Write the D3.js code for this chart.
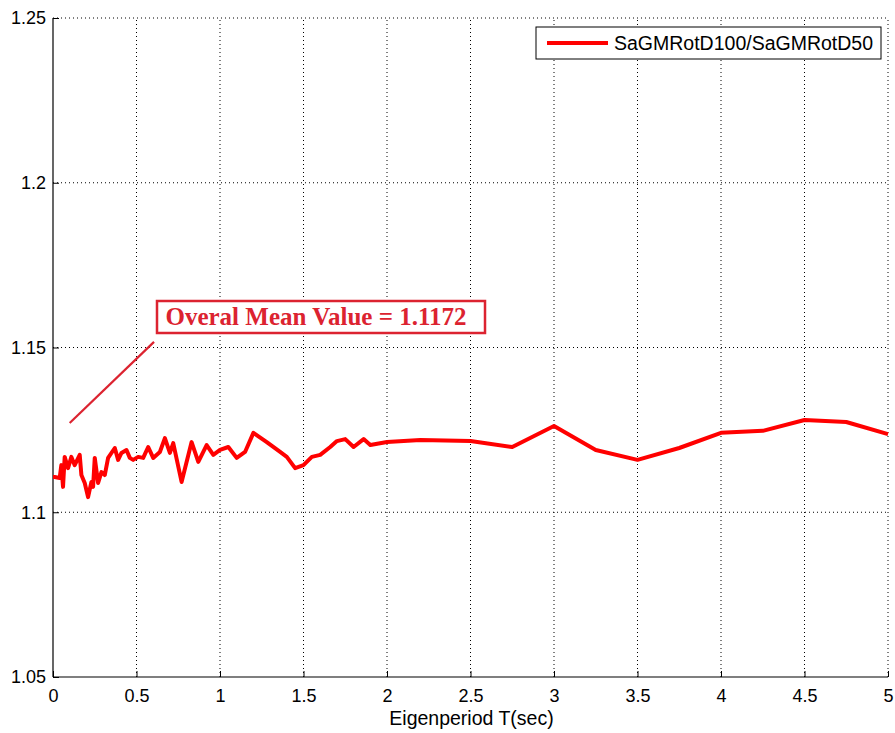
<!DOCTYPE html>
<html>
<head>
<meta charset="utf-8">
<script src="https://cdn.jsdelivr.net/npm/d3@7"></script>
<style>
  body { margin: 0; background: #fff; }
  svg { display: block; }
</style>
</head>
<body>
<script>
// periods (sec) and ratio values
const periods = [0.0, 0.01, 0.04, 0.05, 0.06, 0.07, 0.09, 0.11, 0.13, 0.16, 0.17, 0.19, 0.21, 0.23, 0.24, 0.25,
    0.27, 0.29, 0.31, 0.33, 0.37, 0.39, 0.41, 0.44, 0.46, 0.48, 0.51, 0.54, 0.57, 0.60, 0.64, 0.67, 0.70, 0.72,
    0.77, 0.83, 0.87, 0.92, 0.96, 1.00, 1.05, 1.10, 1.15, 1.20, 1.28, 1.36, 1.40, 1.45, 1.50, 1.55, 1.60, 1.66,
    1.70, 1.75, 1.80, 1.86, 1.90, 2.00, 2.20, 2.50, 2.75, 3.00, 3.25, 3.50, 3.75, 4.00, 4.25, 4.50, 4.75, 5.00];
const ratios = [1.1107, 1.1107, 1.1104, 1.1143, 1.1077, 1.1168, 1.1134, 1.1168, 1.1143, 1.1174, 1.1113, 1.1089, 1.1046, 1.1092, 1.1077, 1.1165,
    1.1089, 1.1122, 1.1113, 1.1165, 1.1195, 1.1159, 1.1180, 1.1189, 1.1165, 1.1159, 1.1168, 1.1165, 1.1198, 1.1165, 1.1183, 1.1225, 1.1180, 1.1210,
    1.1092, 1.1213, 1.1153, 1.1204, 1.1174, 1.1189, 1.1198, 1.1165, 1.1183, 1.1241, 1.1213, 1.1183, 1.1168, 1.1134, 1.1143, 1.1168, 1.1174, 1.1198,
    1.1216, 1.1222, 1.1198, 1.1222, 1.1204, 1.1213, 1.1219, 1.1216, 1.1198, 1.1262, 1.1189, 1.1159, 1.1195, 1.1241, 1.1247, 1.1280, 1.1274, 1.1237];

const x_ticks = [0, 0.5, 1, 1.5, 2, 2.5, 3, 3.5, 4, 4.5, 5];
const y_ticks = [1.05, 1.1, 1.15, 1.2, 1.25];
const series_name = 'SaGMRotD100/SaGMRotD50';
const note_text = 'Overal Mean Value = 1.1172';
// arrow from note box down towards the curve
const note_line = [{t: 0.10, v: 1.1271}, {t: 0.605, v: 1.1517}];

const width = 895, height = 733;
const margins = {top: 18, bottom: 56, left: 53, right: 7};

const svg = d3.select('body').append('svg')
    .attr('width', width)
    .attr('height', height)
    .style('font-family', 'Arial, "Liberation Sans", sans-serif');

const x_scale = d3.scaleLinear().domain([0, 5]).range([margins.left, width - margins.right]);
const y_scale = d3.scaleLinear().domain([1.05, 1.25]).range([height - margins.bottom, margins.top]);

// dotted grid
svg.append('g').selectAll('line')
    .data(x_ticks.slice(1))
    .enter().append('line')
    .attr('x1', d => x_scale(d)).attr('x2', d => x_scale(d))
    .attr('y1', y_scale(1.05)).attr('y2', y_scale(1.25))
    .attr('stroke', '#000').attr('stroke-width', 1).attr('stroke-dasharray', '1,3');

svg.append('g').selectAll('line')
    .data(y_ticks.slice(1))
    .enter().append('line')
    .attr('x1', x_scale(0)).attr('x2', x_scale(5))
    .attr('y1', d => y_scale(d)).attr('y2', d => y_scale(d))
    .attr('stroke', '#000').attr('stroke-width', 1).attr('stroke-dasharray', '1,3');

// axes (ticks inside, matlab style)
let x_axis = d3.axisBottom(x_scale).tickValues(x_ticks).tickSize(-6).tickPadding(12)
    .tickFormat(d3.format('~g'));
let y_axis = d3.axisLeft(y_scale).tickValues(y_ticks).tickSize(-6).tickPadding(7)
    .tickFormat(d => d3.format('~g')(d));

const gx = svg.append('g')
    .attr('transform', 'translate(0,' + y_scale(1.05) + ')')
    .call(x_axis);
const gy = svg.append('g')
    .attr('transform', 'translate(' + x_scale(0) + ',0)')
    .call(y_axis);

[gx, gy].forEach(g => {
    g.select('.domain').attr('stroke', '#000').attr('stroke-width', 1.2);
    g.selectAll('.tick line').attr('stroke', '#000');
    g.selectAll('.tick text').attr('font-size', '18px').attr('fill', '#000')
        .attr('font-family', 'Arial, "Liberation Sans", sans-serif');
});
gx.select('.domain').attr('d', 'M' + x_scale(0) + ',0H' + x_scale(5));
gy.select('.domain').attr('d', 'M0,' + y_scale(1.05) + 'V' + y_scale(1.25));

svg.append('text')
    .attr('x', (x_scale(0) + x_scale(5)) / 2 + 1)
    .attr('y', 725)
    .attr('text-anchor', 'middle')
    .attr('font-size', '19.5px')
    .text('Eigenperiod T(sec)');

// the curve
const curve_data = periods.map((t, i) => ({t: t, v: ratios[i]}));
const line = d3.line().x(d => x_scale(d.t)).y(d => y_scale(d.v));

svg.append('path')
    .datum(curve_data)
    .attr('d', line)
    .attr('fill', 'none')
    .attr('stroke', '#ff0000')
    .attr('stroke-width', 4)
    .attr('stroke-linejoin', 'round');

// annotation
svg.append('path')
    .datum(note_line)
    .attr('d', line)
    .attr('stroke', '#dc2330')
    .attr('stroke-width', 2.2)
    .attr('fill', 'none');

svg.append('rect')
    .attr('x', 157).attr('y', 301)
    .attr('width', 328).attr('height', 32)
    .attr('fill', '#fff')
    .attr('stroke', '#dc2330')
    .attr('stroke-width', 2.5);

svg.append('text')
    .attr('x', 316).attr('y', 325)
    .attr('text-anchor', 'middle')
    .attr('font-family', '"Liberation Serif", "Times New Roman", serif')
    .attr('font-weight', 'bold')
    .attr('font-size', '25px')
    .attr('fill', '#dc2330')
    .text(note_text);

// legend
const legend = svg.append('g');
legend.append('rect')
    .attr('x', 536).attr('y', 27)
    .attr('width', 345).attr('height', 32)
    .attr('fill', '#fff')
    .attr('stroke', '#000')
    .attr('stroke-width', 1);
legend.append('line')
    .attr('x1', 547).attr('x2', 608)
    .attr('y1', 43).attr('y2', 43)
    .attr('stroke', '#ff0000')
    .attr('stroke-width', 4);
legend.append('text')
    .attr('x', 614).attr('y', 50)
    .attr('font-size', '19.5px')
    .text(series_name);
</script>
</body>
</html>
